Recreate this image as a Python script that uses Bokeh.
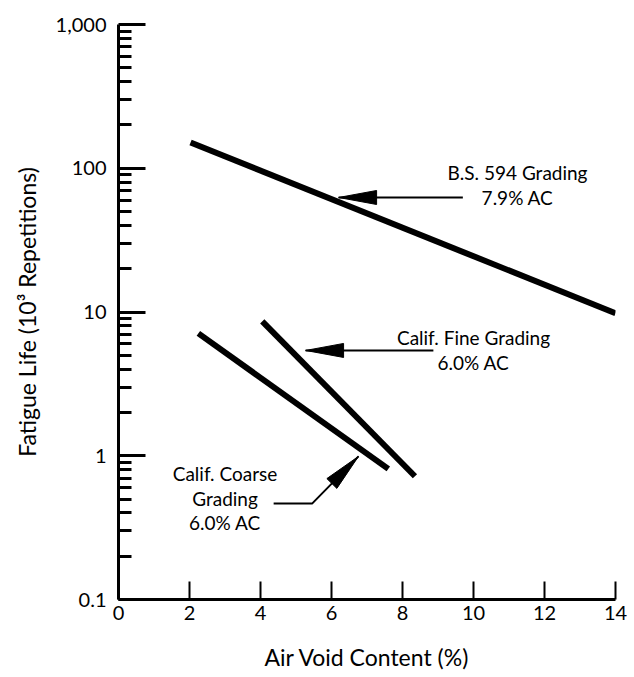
import numpy as np
from bokeh.plotting import figure
from bokeh.models import Range1d, FixedTicker, NumeralTickFormatter
from bokeh.embed import file_html
from bokeh.resources import INLINE
from bokeh.core.properties import value

# ---------------- data ----------------
bs_void = [2.03, 14.0]
bs_life = [151.0, 9.8]
fine_void = [4.05, 8.35]
fine_life = [8.6, 0.72]
coarse_void = [2.25, 7.6]
coarse_life = [7.1, 0.81]

x_ticks = [0, 2, 4, 6, 8, 10, 12, 14]
y_ticks = [0.1, 1, 10, 100, 1000]
y_minor = [m * 10.0 ** e for e in range(-1, 3) for m in range(2, 10)]

# ---------------- annotations ----------------
bs_text = ["B.S. 594 Grading", "7.9% AC"]
bs_text_x = [11.24, 11.24]
bs_text_y = [93.0, 62.6]
fine_text = ["Calif. Fine Grading", "6.0% AC"]
fine_text_x = [10.0, 10.0]
fine_text_y = [6.65, 4.46]
coarse_text = ["Calif. Coarse", "Grading", "6.0% AC"]
coarse_text_x = [3.0, 3.0, 3.0]
coarse_text_y = [0.753, 0.504, 0.343]

bs_arrow_x = [9.7, 6.2]
bs_arrow_y = [62.6, 62.6]
fine_arrow_x = [8.87, 5.27]
fine_arrow_y = [5.4, 5.4]
coarse_arrow_x = [4.37, 5.46, 6.76]
coarse_arrow_y = [0.466, 0.466, 0.99]

FONT = "Lato"
W, H = 634, 677
LEFT, RIGHT, TOP, BOTTOM = 118, 19, 24, 78
FW, FH = W - LEFT - RIGHT, H - TOP - BOTTOM

p = figure(width=W, height=H, x_range=Range1d(0, 14), y_range=Range1d(0.1, 1000),
           y_axis_type="log", output_backend="svg", toolbar_location=None, title=None,
           min_border_left=LEFT, min_border_right=RIGHT, min_border_top=TOP,
           min_border_bottom=BOTTOM)
p.outline_line_color = None
p.grid.visible = False
p.background_fill_color = "white"
p.border_fill_color = "white"

# axes
for ax in (p.xaxis, p.yaxis):
    ax.axis_line_width = 3
    ax.axis_line_color = "black"
    ax.major_tick_line_color = "black"
    ax.major_tick_line_width = 3
    ax.minor_tick_line_color = "black"
    ax.minor_tick_line_width = 3
    ax.major_tick_out = 0
    ax.minor_tick_out = 0
    ax.major_label_text_font = FONT
    ax.major_label_text_font_size = "20px"
    ax.major_label_text_color = "black"
    ax.axis_label_text_font = FONT
    ax.axis_label_text_font_size = "23px"
    ax.axis_label_text_font_style = "normal"
    ax.axis_label_text_color = "black"

p.xaxis.ticker = FixedTicker(ticks=x_ticks, minor_ticks=[])
p.xaxis.major_tick_in = 18
p.xaxis.minor_tick_in = 0
p.xaxis.major_tick_line_width = 2
p.xaxis.major_label_standoff = 6
p.xaxis.axis_label = "Air Void Content (%)"
p.xaxis.axis_label_standoff = 20

p.yaxis.ticker = FixedTicker(ticks=y_ticks, minor_ticks=y_minor)
p.yaxis.formatter = NumeralTickFormatter(format="0,0.[0]")
p.yaxis.major_tick_in = 27
p.yaxis.minor_tick_in = 13
p.yaxis.major_label_standoff = 12
p.yaxis.axis_label = "Fatigue Life (10\u00b3 Repetitions)"
p.yaxis.axis_label_standoff = 12

# data lines
for xs, ys in ((bs_void, bs_life), (fine_void, fine_life), (coarse_void, coarse_life)):
    p.line(xs, ys, line_width=6, line_color="black", line_cap="butt")


# arrows
def to_px(x, y):
    return x * FW / 14.0, (np.log10(y) + 1) * FH / 4.0


def from_px(px, py):
    return px * 14.0 / FW, 10 ** (py * 4.0 / FH - 1)


def head(tail, tip, L=38.0, Wd=14.0):
    tx, ty = to_px(*tip)
    sx, sy = to_px(*tail)
    d = np.hypot(tx - sx, ty - sy)
    ux, uy = (tx - sx) / d, (ty - sy) / d
    bx, by = tx - ux * L, ty - uy * L
    nx, ny = -uy, ux
    pts = [(tx, ty), (bx + nx * Wd / 2, by + ny * Wd / 2), (bx - nx * Wd / 2, by - ny * Wd / 2)]
    xs, ys = zip(*[from_px(a, b) for a, b in pts])
    return list(xs), list(ys)


hx, hy = [], []
for ax_, ay_ in ((bs_arrow_x, bs_arrow_y), (fine_arrow_x, fine_arrow_y), (coarse_arrow_x, coarse_arrow_y)):
    p.line(ax_, ay_, line_width=2, line_color="black")
    xs, ys = head((ax_[-2], ay_[-2]), (ax_[-1], ay_[-1]))
    hx.append(xs)
    hy.append(ys)
p.patches(hx, hy, fill_color="black", line_color="black", line_width=1)

# texts
for t, xs, ys in ((bs_text, bs_text_x, bs_text_y), (fine_text, fine_text_x, fine_text_y),
                  (coarse_text, coarse_text_x, coarse_text_y)):
    p.text(x=xs, y=ys, text=t, text_font=value(FONT), text_font_size="19px",
           text_align="center", text_baseline="middle", text_color="black")

open("out.html", "w").write(file_html(p, INLINE))
